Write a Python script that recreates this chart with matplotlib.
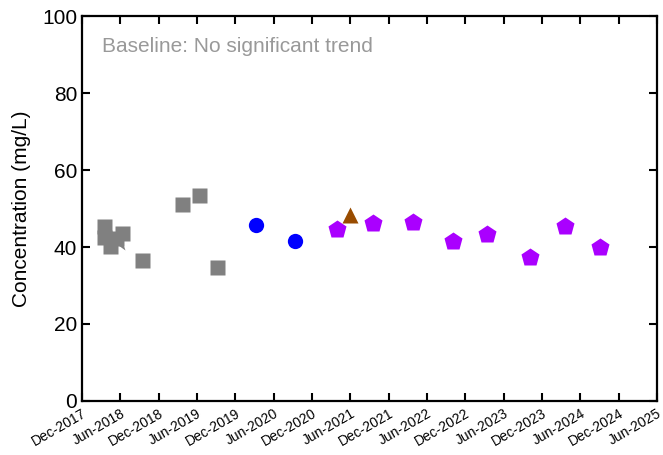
import matplotlib
matplotlib.use("Agg")
import matplotlib.pyplot as plt
import pandas as pd

plt.rcParams['font.family'] = ['Liberation Sans', 'DejaVu Sans']

# Baseline samples (grey squares, one grey star)
base_sq_dates = ["2018-03-16", "2018-03-18", "2018-04-13", "2018-05-10", "2018-06-09",
                 "2018-09-13", "2019-03-22", "2019-06-11", "2019-09-05"]
base_sq_vals = [45.5, 42.6, 40.3, 42.3, 43.6, 36.6, 51.2, 53.5, 34.8]
base_star_dates = ["2018-05-21"]
base_star_vals = [41.8]

# Blue circles
blue_dates = ["2020-03-09", "2020-09-11"]
blue_vals = [45.7, 41.6]

# Brown triangle
tri_dates = ["2021-05-31"]
tri_vals = [48.3]

# Purple pentagons
pent_dates = ["2021-03-30", "2021-09-17", "2022-03-27", "2022-10-03",
              "2023-03-14", "2023-10-05", "2024-03-20", "2024-09-03"]
pent_vals = [44.7, 46.2, 46.5, 41.6, 43.4, 37.4, 45.5, 40.0]

tick_dates = pd.date_range("2017-12-01", "2025-06-01", freq="6MS")
tick_labels = [d.strftime("%b-%Y") for d in tick_dates]

fig = plt.figure(figsize=(6.63, 4.55), dpi=100)
ax = fig.add_axes([0.1237, 0.1187, 0.8673, 0.8461])

d = pd.to_datetime
ax.plot(d(base_sq_dates), base_sq_vals, 's', color='#808080', ms=10.8, mec='none', zorder=3)
ax.plot(d(base_star_dates), base_star_vals, '*', color='#808080', ms=17, mec='none', zorder=3)
ax.plot(d(blue_dates), blue_vals, 'o', color='#0000FF', ms=11, mec='none', zorder=3)
ax.plot(d(pent_dates), pent_vals, 'p', color='#AA00FF', ms=13.5, mec='none', zorder=3)
ax.plot(d(tri_dates), tri_vals, '^', color='#994C00', ms=11, mec='none', zorder=3)

ax.set_xlim(tick_dates[0], tick_dates[-1])
ax.set_ylim(0, 100)
ax.set_xticks(tick_dates)
ax.set_xticklabels(tick_labels, rotation=30, ha='right', rotation_mode='anchor', fontsize=10)
ax.set_yticks([0, 20, 40, 60, 80, 100])
ax.tick_params(axis='y', labelsize=15)
ax.tick_params(direction='in', length=6, width=1.5, top=True, right=True)
ax.tick_params(axis='x', pad=4)
for s in ax.spines.values():
    s.set_linewidth(1.6)

ax.set_ylabel("Concentration (mg/L)", fontsize=15, labelpad=8)
ax.text(0.035, 0.92, "Baseline: No significant trend", transform=ax.transAxes,
        color='#999999', fontsize=15, va='center', ha='left')

fig.savefig("out.png", dpi=100)
